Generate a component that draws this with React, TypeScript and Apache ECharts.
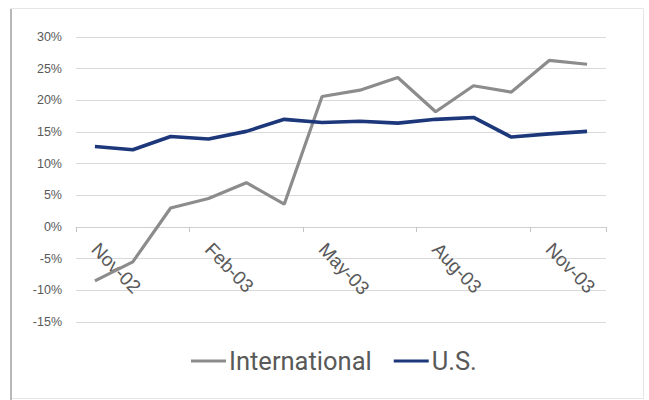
import React, { useEffect, useRef } from "react";
import * as echarts from "echarts";

const categories = [
  "Nov-02", "Dec-02", "Jan-03", "Feb-03", "Mar-03", "Apr-03", "May-03",
  "Jun-03", "Jul-03", "Aug-03", "Sep-03", "Oct-03", "Nov-03", "Dec-03",
];

const international = [-8.5, -5.5, 3.0, 4.5, 7.0, 3.6, 20.6, 21.6, 23.6, 18.2, 22.3, 21.3, 26.3, 25.7];
const us = [12.7, 12.2, 14.3, 13.9, 15.1, 17.0, 16.5, 16.7, 16.4, 17.0, 17.3, 14.2, 14.7, 15.1];

const yMin = -15;
const yMax = 30;
const yStep = 5;

const GRAY = "#8c8c8c";
const NAVY = "#1c377a";
const LABEL = "#595959";

// plot area in pixels; the category axis sits on the 0% line
const GRID_TOP = 37;
const GRID_BOTTOM = 78;
const PLOT_H = 400 - GRID_TOP - GRID_BOTTOM;
const ZERO_OFFSET = -Math.round((PLOT_H * (0 - yMin)) / (yMax - yMin));

export default function App() {
  const ref = useRef<HTMLDivElement>(null);

  useEffect(() => {
    if (!ref.current) return;
    const chart = echarts.init(ref.current, undefined, { renderer: "svg" });
    chart.setOption({
      animation: false,
      backgroundColor: "#ffffff",
      grid: { left: 76, right: 43, top: GRID_TOP, bottom: GRID_BOTTOM, containLabel: false },
      legend: {
        left: 186,
        top: 343,
        itemWidth: 35,
        itemHeight: 3,
        itemGap: 22,
        icon: "rect",
        textStyle: { fontFamily: "Roboto", fontSize: 25.5, color: LABEL, padding: [0, 0, 0, -2] },
        data: ["International", "U.S."],
      },
      xAxis: {
        type: "category",
        data: categories,
        boundaryGap: true,
        offset: ZERO_OFFSET,
        axisLine: { onZero: false, lineStyle: { color: "#d0d0d0", width: 1 } },
        axisTick: { show: true, interval: 2, length: 5, lineStyle: { color: "#c4c4c4" } },
        axisLabel: {
          interval: 2,
          rotate: -46,
          margin: 19,
          color: LABEL,
          fontFamily: "Liberation Sans",
          fontSize: 19,
        },
      },
      yAxis: {
        type: "value",
        min: yMin,
        max: yMax,
        interval: yStep,
        axisLine: { show: false },
        axisTick: { show: false },
        axisLabel: {
          formatter: (v: number) => `${v}%`,
          color: LABEL,
          fontFamily: "Liberation Sans",
          fontSize: 12.5,
          margin: 14,
        },
        splitLine: { lineStyle: { color: "#d9d9d9", width: 1 } },
      },
      series: [
        {
          name: "International",
          type: "line",
          data: international,
          symbol: "none",
          lineStyle: { color: GRAY, width: 3.2 },
          itemStyle: { color: GRAY },
        },
        {
          name: "U.S.",
          type: "line",
          data: us,
          symbol: "none",
          lineStyle: { color: NAVY, width: 3.6 },
          itemStyle: { color: NAVY },
        },
      ],
      graphic: [
        {
          type: "rect",
          shape: { x: 10.5, y: 8.5, width: 633, height: 390 },
          style: { fill: "none", stroke: "#e6e6e6", lineWidth: 1 },
          silent: true,
        },
        {
          type: "line",
          shape: { x1: 11, y1: 9, x2: 11, y2: 400 },
          style: { stroke: "#b8b8b8", lineWidth: 2 },
          silent: true,
        },
      ],
    });
    return () => chart.dispose();
  }, []);

  return (
    <div
      ref={ref}
      style={{ position: "fixed", left: 0, top: 0, width: 649, height: 400 }}
    />
  );
}
